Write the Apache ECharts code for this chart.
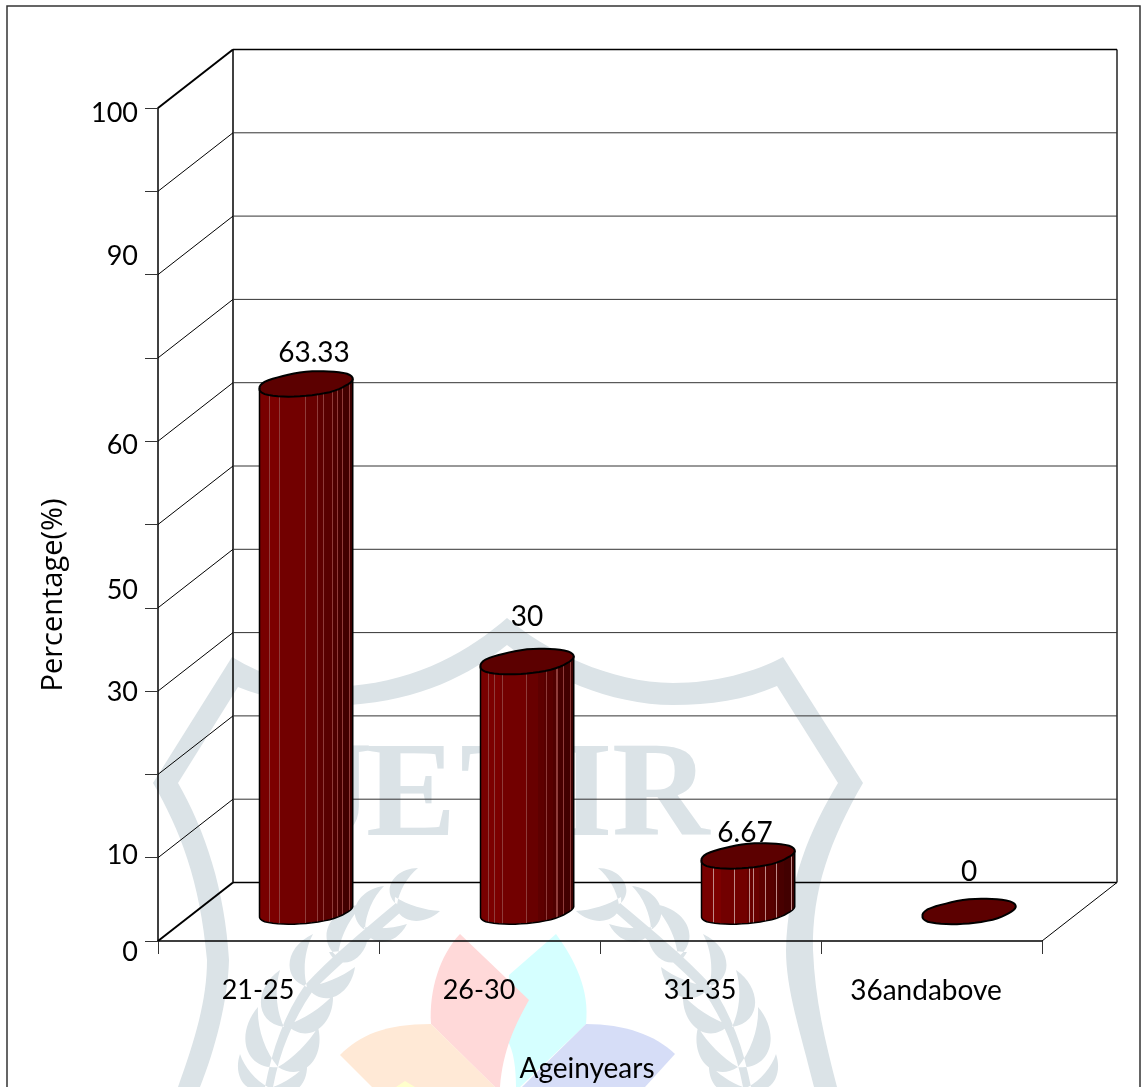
<!DOCTYPE html>
<html>
<head>
<meta charset="utf-8">
<title>Age distribution</title>
<style>
  html, body { margin: 0; padding: 0; background: #fff; }
  #chart { width: 1141px; height: 1087px; }
</style>
<script src="https://cdn.jsdelivr.net/npm/echarts@6/dist/echarts.min.js"></script>
</head>
<body>
<div id="chart"></div>
<script>
// Survey data
const categories = ['21-25', '26-30', '31-35', '36andabove'];
const percentages = [63.33, 30, 6.67, 0];

// Value axis: regular ticks, plus the printed labels and where they sit on the axis
const gridValues = [0, 10, 20, 30, 40, 50, 60, 70, 80, 90, 100];
const printedLabels = ['0', '10', '30', '50', '60', '90', '100'];
const printedLabelAt = [0, 10.3, 29.8, 42.1, 59.5, 82.2, 99.4];

// Offset of each value label from the top face of its cylinder
const valueLabelOffset = [[8, -31], [0, -45], [-3, -23], [0, -40]];

// Depth of the box, and where a cylinder stands inside it
const boxDepth = [75, 58.5];
const cylinderDepth = [37.5, 29.5];

// Cylinder shading, left to right across the body
const shadeBands = [
  [0, '#780000'], [0.11, '#7c0000'], [0.21, '#720000'], [0.486, '#680000'], [0.61, '#5e0000'],
  [0.675, '#580000'], [0.775, '#500000'], [0.83, '#480000'], [0.875, '#420000'], [0.957, '#3a0000']
];
const facetSeams = [
  [0.11, 0.21, 0.486, 0.61, 0.675, 0.775, 0.83, 0.875, 0.957],
  [0.09, 0.15, 0.23, 0.49, 0.70, 0.81, 0.88, 0.95],
  [0.134, 0.346, 0.505, 0.547, 0.675, 0.79, 0.95],
  []
];
const seamColors = ['#8f3c3a', '#8f3c3a', '#c08a88', '#8f3c3a'];
const rimWobble = [1, 0.975, 1.015, 0.99, 0.98, 1.02, 0.995, 1.025, 0.985, 1.02, 0.975, 1.015];

const INK = '#000';
const TEXT_FONT = 'Lato';
const TEXT_SIZE = 27;
const WATERMARK = '#dbe3e7';

function rimPoint(cx, cy, a, b, tilt, t) {
  const phase = ((t / (2 * Math.PI)) % 1 + 1) % 1 * rimWobble.length;
  const i = Math.floor(phase), f = phase - i;
  const w = rimWobble[i % rimWobble.length] * (1 - f) + rimWobble[(i + 1) % rimWobble.length] * f;
  return [cx + a * w * Math.cos(t), cy + b * w * Math.sin(t) - tilt * Math.cos(t)];
}

// Hard-edged horizontal gradient: shaded facets with thin light seams between them
function bodyGradient(index) {
  const seams = facetSeams[index];
  const seamWidth = 0.011;
  const shadeAt = function (x) {
    let c = shadeBands[0][1];
    shadeBands.forEach(function (b) { if (b[0] <= x) c = b[1]; });
    return c;
  };
  const edges = [1];
  shadeBands.forEach(function (b) { edges.push(b[0]); });
  seams.forEach(function (s) { edges.push(s); edges.push(s + seamWidth); });
  edges.sort(function (p, q) { return p - q; });
  const stops = [];
  for (let i = 0; i < edges.length - 1; i++) {
    const from = edges[i], to = edges[i + 1];
    if (to - from < 1e-6) continue;
    const mid = (from + to) / 2;
    const onSeam = seams.some(function (s) { return mid >= s && mid <= s + seamWidth; });
    const color = onSeam ? seamColors[index] : shadeAt(mid);
    stops.push({ offset: from, color: color });
    stops.push({ offset: to, color: color });
  }
  return { type: 'linear', x: 0, y: 0, x2: 1, y2: 0, colorStops: stops };
}

function renderBox(params, api) {
  const value = api.value(1);
  const sys = params.coordSys;
  const y = api.coord([0, value])[1];
  const heavy = value === 0 || value === 100;
  const bx = sys.x + boxDepth[0], by = y - boxDepth[1];
  const children = [
    { type: 'line', shape: { x1: sys.x, y1: y, x2: bx, y2: by },
      style: { stroke: INK, lineWidth: heavy ? 2 : 1 } },
    { type: 'line', shape: { x1: bx, y1: by, x2: bx + sys.width, y2: by },
      style: { stroke: heavy ? '#000' : '#333', lineWidth: heavy ? 1.5 : 1 } }
  ];
  if (value === 0) {
    const topY = api.coord([0, 100])[1] - boxDepth[1];
    children.push(
      { type: 'line', shape: { x1: bx, y1: by, x2: bx, y2: topY }, style: { stroke: INK, lineWidth: 1.5 } },
      { type: 'line', shape: { x1: bx + sys.width, y1: by, x2: bx + sys.width, y2: topY }, style: { stroke: '#222', lineWidth: 1.5 } },
      { type: 'line', shape: { x1: sys.x + sys.width, y1: y, x2: bx + sys.width, y2: by }, style: { stroke: INK, lineWidth: 1 } }
    );
  }
  return { type: 'group', children: children };
}

function renderCylinder(params, api) {
  const index = api.value(0);
  const value = api.value(1);
  const top = api.coord([index, value]);
  const base = api.coord([index, 0]);
  const band = api.size([1, 0])[0];
  const a = band * 0.2115, b = 12, tilt = 4.7;
  const cx = top[0] + cylinderDepth[0];
  const topY = top[1] - cylinderDepth[1];
  const baseY = base[1] - cylinderDepth[1];
  const children = [];

  if (value > 0) {
    const body = [rimPoint(cx, topY, a, b, tilt, Math.PI), rimPoint(cx, topY, a, b, tilt, 0)];
    for (let k = 0; k <= 24; k++) {
      body.push(rimPoint(cx, baseY, a, b, tilt, Math.PI * k / 24));
    }
    children.push({
      type: 'polygon', shape: { points: body },
      style: { fill: bodyGradient(index), stroke: INK, lineWidth: 1.5 }
    });
  }
  const rim = [];
  for (let k = 0; k < 48; k++) {
    rim.push(rimPoint(cx, topY, a, b, tilt, 2 * Math.PI * k / 48));
  }
  children.push({
    type: 'polygon', shape: { points: rim },
    style: { fill: '#5c0000', stroke: INK, lineWidth: 2 }
  });
  const offset = valueLabelOffset[index];
  children.push({
    type: 'text',
    style: {
      text: String(value), x: cx + offset[0], y: topY + offset[1],
      align: 'center', verticalAlign: 'middle',
      font: (TEXT_SIZE + 1) + 'px ' + TEXT_FONT, fill: INK
    }
  });
  return { type: 'group', children: children };
}

// One laurel leaf: two curves from stem to tip, the fuller one on the outer side
function leaf(base, tip, outer, inner, mirror) {
  const mx = function (x) { return mirror ? 1016 - x : x; };
  const dx = tip[0] - base[0], dy = tip[1] - base[1];
  const nx = -dy, ny = dx;
  const p = function (t, n) {
    return mx(base[0] + dx * t + nx * n).toFixed(1) + ' ' + (base[1] + dy * t + ny * n).toFixed(1);
  };
  return 'M' + mx(base[0]).toFixed(1) + ' ' + base[1] + ' C' + p(0.1, outer) + ' ' + p(0.7, outer) + ' ' + mx(tip[0]).toFixed(1) + ' ' + tip[1] +
    ' C' + p(0.7, inner) + ' ' + p(0.3, inner) + ' ' + mx(base[0]).toFixed(1) + ' ' + base[1] + ' Z ';
}

const risingLeaves = [
  [[397, 905], [418, 868]], [[365, 930], [384, 886]], [[338, 957], [364, 904]], [[307, 987], [313, 934]],
  [[284, 1027], [280, 970]], [[278, 1067], [258, 1007]], [[268, 1087], [240, 1054]]
];
const fallingLeaves = [
  [[395, 897], [440, 911]], [[364, 927], [407, 924]], [[329, 952], [367, 942]], [[307, 987], [355, 967]],
  [[287, 1025], [333, 995]], [[278, 1067], [318, 1027]], [[273, 1087], [307, 1064]]
];

// Leaves are described for the left branch; the right branch is its reflection
function laurelPath(mirror) {
  let d = mirror
    ? 'M620 903 C656 933 686 958 711 985 C731 1013 744 1050 751 1087 L743 1087 C736 1050 723 1020 704 992 C679 966 649 942 614 911 Z '
    : 'M396 903 C360 933 330 958 305 985 C285 1013 272 1050 265 1087 L273 1087 C280 1050 293 1020 312 992 C337 966 367 942 402 911 Z ';
  risingLeaves.forEach(function (l) { d += leaf(l[0], l[1], -0.5, -0.12, mirror); });
  fallingLeaves.forEach(function (l) { d += leaf(l[0], l[1], 0.5, 0.08, mirror); });
  return d;
}

function mark(pathData, fill) {
  return { type: 'path', shape: { pathData: pathData }, style: { fill: fill } };
}
function markLetter(letter, x) {
  return {
    type: 'text',
    style: { text: letter, x: x, y: 868, verticalAlign: 'bottom',
      font: 'bold 135px "Liberation Serif"', fill: WATERMARK }
  };
}

// Journal emblem behind the plot
function renderEmblem() {
  return {
    type: 'group',
    children: [
      mark('M153 783 L232 657 C270 680 310 690 350 686 C420 680 470 650 507 618 C545 650 610 683 673 683 C715 683 755 672 783 657 L863 783 C830 840 812 890 813 950 C815 1000 825 1040 837 1087 L814 1087 C800 1030 786 990 786 950 C788 880 810 830 838 783 L777 686 C745 700 710 705 673 705 C610 705 545 675 507 645 C470 675 420 700 350 705 C310 708 270 700 238 687 L178 783 C205 830 225 890 229 960 C228 1000 215 1050 200 1087 L178 1087 C195 1040 207 1000 207 960 C200 880 180 830 153 783 Z', WATERMARK),
      mark('M556 934 C575 960 590 990 586 1024 L520 1087 L516 1087 C516 1070 514 1050 507 1040 L509 975 Z', '#d5ffff'),
      mark('M460 934 L529 1000 C515 1025 503 1050 500 1087 L495 1087 L431 1024 C429 990 440 955 460 934 Z', '#ffd9d9'),
      mark('M340 1055 C360 1035 385 1024 431 1024 L495 1087 L372 1087 Z', '#ffe9d6'),
      mark('M675 1054 C655 1035 625 1024 586 1024 L522 1087 L645 1087 Z', '#d6ddf7'),
      mark('M405 1081 L415 1087 L396 1087 Z', '#ffffcc'),
      mark(laurelPath(false), WATERMARK),
      mark(laurelPath(true), WATERMARK),
      markLetter('J', 305), markLetter('E', 366), markLetter('T', 460), markLetter('I', 560), markLetter('R', 612)
    ]
  };
}

const chart = echarts.init(document.getElementById('chart'), null, { renderer: 'canvas' });
chart.setOption({
  animation: false,
  backgroundColor: 'transparent',
  graphic: {
    elements: [
      { type: 'rect', z: -6, silent: true, shape: { x: 7, y: 6, width: 1133, height: 1120 },
        style: { fill: '#fff', stroke: '#333', lineWidth: 1.5 } }
    ]
  },
  grid: { left: 158, top: 108, width: 884, height: 833, containLabel: false, outerBoundsMode: 'none' },
  xAxis: {
    type: 'category',
    data: categories,
    boundaryGap: true,
    name: 'Ageinyears',
    nameLocation: 'middle',
    nameGap: 114,
    nameTextStyle: { fontFamily: TEXT_FONT, fontSize: TEXT_SIZE + 1, color: INK, padding: [0, 26, 0, 0] },
    axisLine: { show: true, lineStyle: { color: INK, width: 1.5 } },
    axisTick: { show: true, length: 13, lineStyle: { color: '#333', width: 1 } },
    axisLabel: {
      show: true,
      interval: 0,
      margin: 36,
      formatter: function (v) {
        return v === categories[3] ? '{far|' + v + '}' : '{near|' + v + '}';
      },
      rich: {
        near: { fontFamily: TEXT_FONT, fontSize: TEXT_SIZE, color: INK, padding: [0, 21, 0, 0] },
        far: { fontFamily: TEXT_FONT, fontSize: TEXT_SIZE + 1, color: INK, padding: [0, 11, 0, 0] }
      }
    },
    splitLine: { show: false }
  },
  yAxis: {
    type: 'value',
    min: 0,
    max: 100,
    interval: 10,
    name: 'Percentage(%)',
    nameLocation: 'middle',
    nameRotate: 90,
    nameGap: 90,
    nameTextStyle: { fontFamily: 'Open Sans', fontSize: 29, color: INK, padding: [0, 141, 0, 0] },
    axisLine: { show: true, lineStyle: { color: INK, width: 1.5 } },
    axisTick: { show: true, length: 13, lineStyle: { color: '#333', width: 1 } },
    splitLine: { show: false },
    axisLabel: {
      show: true,
      margin: 20,
      customValues: printedLabelAt,
      formatter: function (v) {
        const text = printedLabels[printedLabelAt.indexOf(v)];
        return v === 0 ? '{low|' + text + '}' : '{std|' + text + '}';
      },
      rich: {
        std: { fontFamily: TEXT_FONT, fontSize: TEXT_SIZE, color: INK },
        low: { fontFamily: TEXT_FONT, fontSize: TEXT_SIZE, color: INK, padding: [22, 0, 0, 0] }
      }
    }
  },
  series: [
    {
      type: 'custom', name: 'emblem', z: -1, silent: true, clip: false,
      renderItem: renderEmblem,
      encode: { x: 0, y: 1 },
      data: [[0, 0]]
    },
    {
      type: 'custom', name: 'box', z: 1, silent: true, clip: false,
      renderItem: renderBox,
      encode: { x: 0, y: 1 },
      data: gridValues.map(function (v) { return [0, v]; })
    },
    {
      type: 'custom', name: 'Percentage', z: 3, silent: true, clip: false,
      renderItem: renderCylinder,
      encode: { x: 0, y: 1 },
      data: percentages.map(function (v, i) { return [i, v]; })
    }
  ]
});
</script>
</body>
</html>
